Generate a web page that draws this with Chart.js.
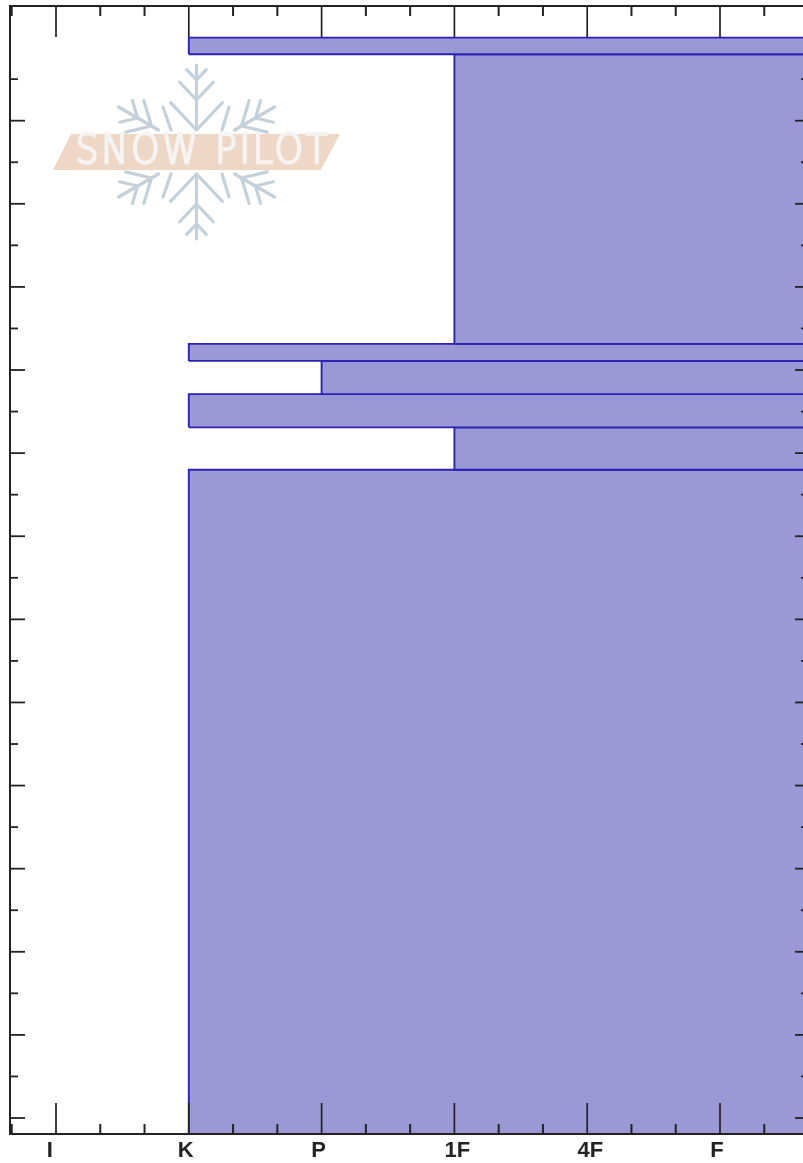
<!DOCTYPE html>
<html><head><meta charset="utf-8">
<style>html,body{margin:0;padding:0;background:#fff;overflow:hidden}canvas{display:block}</style>
<script src="https://cdn.jsdelivr.net/npm/chart.js@4"></script>
</head><body><canvas id="c" width="803" height="1163"></canvas>
<script>
const hardnessLabels = ['I  ', 'K ', 'P ', ' 1F', ' 4F', 'F '];
const layerTop =    [260, 256, 186.3, 182.2, 174.2, 166.2, 156];
const layerBottom = [256, 186.3, 182.2, 174.2, 166.2, 156, -3.85];
const layerHard =   [1, 3, 1, 2, 1, 3, 1];
const hardTicks = [-1/3,0,1/3,2/3,1,4/3,5/3,2,7/3,8/3,3,10/3,11/3,4,13/3,14/3,5,16/3];
const depthMajor = [0,20,40,60,80,100,120,140,160,180,200,220,240];
const depthMinor = [10,30,50,70,90,110,130,150,170,190,210,230,250];
const X_MIN = -0.3464, X_MAX = 5.625, Y_MIN = -3.85, Y_MAX = 267.6, BAR_END = 6;

const datasets = layerHard.map((h,i)=>({
  type:'scatter', showLine:true, tension:0, pointRadius:0, pointHoverRadius:0,
  borderColor:'#2a22b4', borderWidth:1.9, backgroundColor:'#9a99d6', fill:'shape',
  data:[{x:h,y:layerBottom[i]},{x:h,y:layerTop[i]},{x:BAR_END,y:layerTop[i]},{x:BAR_END,y:layerBottom[i]},{x:h,y:layerBottom[i]}]
}));

function arm(ctx,cx,cy,angle,r0,r1,branches){
  ctx.save();ctx.translate(cx,cy);ctx.rotate(angle);
  ctx.beginPath();ctx.moveTo(0,-r0);ctx.lineTo(0,-r1);
  branches.forEach(([at,len])=>{
    const s=0.70,c=0.74;
    ctx.moveTo(0,-at);ctx.lineTo(-len*s,-at-len*c);
    ctx.moveTo(0,-at);ctx.lineTo(len*s,-at-len*c);
  });
  ctx.stroke();ctx.restore();
}
const logo = {
  id:'logo',
  beforeDatasetsDraw(chart){
    const ctx=chart.ctx;ctx.save();
    ctx.strokeStyle='#c4d1da';ctx.lineWidth=3.2;ctx.lineCap='round';ctx.lineJoin='round';
    const cx=196.5,cy=152;
    const vArm=[[22,37],[52,24],[72,14]], dArm=[[52,26],[68,18]];
    arm(ctx,cx,cy,0,22,87,vArm);
    arm(ctx,cx,cy,Math.PI,22,87,vArm);
    [1,-1].forEach(s=>{
      arm(ctx,cx,cy,s*Math.PI/3,44,90,dArm);
      arm(ctx,cx,cy,s*2*Math.PI/3,44,90,dArm);
    });
    [[163,107,171,130],[229,107,222,130],[163,197,171,174],[229,197,222,174]].forEach(p=>{
      ctx.beginPath();ctx.moveTo(p[0],p[1]);ctx.lineTo(p[2],p[3]);ctx.stroke();
    });
    ctx.fillStyle='#eed8c5';ctx.beginPath();
    ctx.moveTo(71,134);ctx.lineTo(340,134);ctx.lineTo(321,170);ctx.lineTo(53,170);ctx.closePath();ctx.fill();
    ctx.font='200 40px "DejaVu Sans ExtraLight","DejaVu Sans"';ctx.textBaseline='middle';ctx.textAlign='center';
    ctx.letterSpacing='3px';
    ctx.lineWidth=2.4;ctx.strokeStyle='#f5f4f2';ctx.lineJoin='miter';
    ctx.strokeText('SNOW PILOT',203,153,255);
    ctx.restore();
  }
};
const frame = {
  id:'frame',
  afterDatasetsDraw(chart){
    const {ctx,chartArea:a,scales:{x,y}}=chart;
    ctx.save();ctx.strokeStyle='#222';ctx.lineCap='butt';
    const seg=(x1,y1,x2,y2,w)=>{ctx.lineWidth=w;ctx.beginPath();ctx.moveTo(x1,y1);ctx.lineTo(x2,y2);ctx.stroke();};
    hardTicks.forEach(v=>{
      const px=x.getPixelForValue(v), major=Number.isInteger(Math.round(v*1e6)/1e6);
      const len=major?31:10, w=major?1.7:2;
      seg(px,a.top,px,a.top+len,w);
      seg(px,a.bottom,px,a.bottom-len,w);
    });
    depthMajor.forEach(v=>{const p=y.getPixelForValue(v);seg(a.left,p,a.left+15,p,1.8);seg(a.right-8,p,a.right,p,1.8);});
    depthMinor.forEach(v=>{const p=y.getPixelForValue(v);seg(a.left,p,a.left+8,p,1.8);seg(a.right-2,p,a.right,p,1.8);});
    seg(a.left,a.top-1,a.left,a.bottom+1,2);
    seg(a.left-1,a.top,a.right,a.top,2);
    seg(a.left-1,a.bottom,a.right,a.bottom,2);
    ctx.restore();
  }
};
new Chart(document.getElementById('c'),{
  data:{datasets},
  plugins:[logo,frame],
  options:{
    responsive:false,animation:false,
    layout:{padding:{left:10,top:6,right:0,bottom:0}},
    plugins:{legend:{display:false},tooltip:{enabled:false},title:{display:false}},
    events:[],
    scales:{
      x:{type:'linear',min:X_MIN,max:X_MAX,
        border:{display:false},grid:{display:false,drawTicks:false,tickLength:0},
        afterBuildTicks(s){s.ticks=hardTicks.map(v=>({value:v}));},
        afterFit(s){s.height=29;},
        ticks:{autoSkip:false,maxRotation:0,minRotation:0,padding:4,color:'#222',
          font:{family:'"Liberation Sans"',size:22,weight:'bold'},
          callback(v){const r=Math.round(v);return Math.abs(v-r)<1e-6&&hardnessLabels[r]!==undefined?hardnessLabels[r]:'';}}
      },
      y:{type:'linear',min:Y_MIN,max:Y_MAX,
        border:{display:false},grid:{display:false},
        afterFit(s){s.width=0;},
        ticks:{display:false}
      }
    }
  }
});
</script></body></html>
